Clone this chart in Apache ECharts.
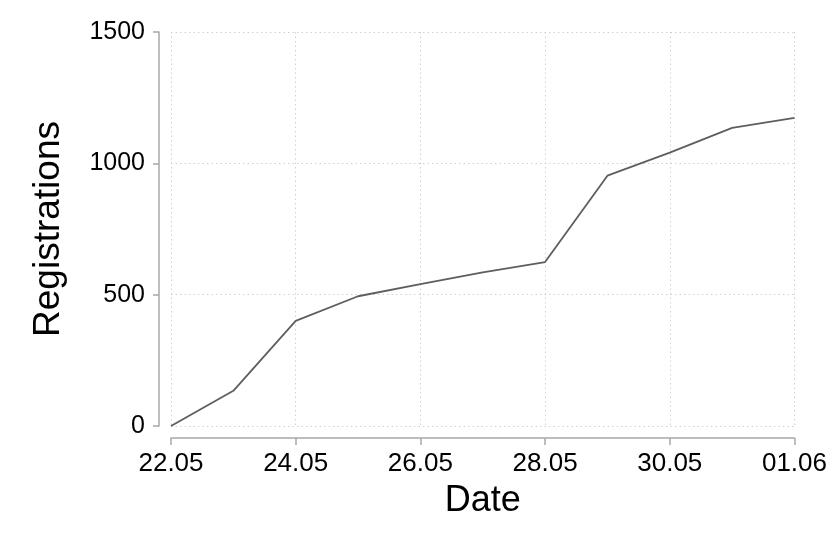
<!DOCTYPE html>
<html>
<head>
<meta charset="utf-8">
<script src="https://cdn.jsdelivr.net/npm/echarts@6/dist/echarts.min.js"></script>
<style>
html,body{margin:0;padding:0;background:#fff;}
#chart{width:830px;height:554px;}
</style>
</head>
<body>
<div id="chart"></div>
<script>
const dates = ["22.05","23.05","24.05","25.05","26.05","27.05","28.05","29.05","30.05","31.05","01.06"];
const registrations = [0, 134, 400, 494, 540, 585, 624, 953, 1041, 1135, 1173];
const yTicks = [0, 500, 1000, 1500];

const chart = echarts.init(document.getElementById('chart'), null, {renderer:'canvas'});
const font = '"Liberation Sans", Arial, Helvetica, sans-serif';
chart.setOption({
  animation: false,
  backgroundColor: '#fff',
  grid: {left: 171, right: 32, top: 32, bottom: 128, containLabel: false},
  xAxis: {
    type: 'category',
    data: dates,
    boundaryGap: false,
    offset: 12,
    name: 'Date',
    nameLocation: 'middle',
    nameGap: 45,
    nameTextStyle: {fontFamily: font, fontSize: 36, color: '#000'},
    axisLine: {show: true, onZero: false, lineStyle: {color: '#a8a8a8', width: 1.5}},
    axisTick: {show: true, interval: 1, length: 7, lineStyle: {color: '#a8a8a8', width: 1.5}},
    axisLabel: {interval: 1, margin: 13, fontFamily: font, fontSize: 26, color: '#000'},
    splitLine: {show: true, interval: 1, lineStyle: {color: '#d0d0d0', type: [1.5, 3], width: 1}}
  },
  yAxis: {
    type: 'value',
    min: yTicks[0],
    max: yTicks[yTicks.length - 1],
    interval: 500,
    offset: 12,
    name: 'Registrations',
    nameLocation: 'middle',
    nameGap: 92,
    nameTextStyle: {fontFamily: font, fontSize: 37, color: '#000'},
    axisLine: {show: true, onZero: false, lineStyle: {color: '#a8a8a8', width: 1.5}},
    axisTick: {show: true, length: 6, lineStyle: {color: '#a8a8a8', width: 1.5}},
    axisLabel: {margin: 14, padding: [6, 0, 0, 0], fontFamily: font, fontSize: 25, color: '#000', formatter: v => String(v)},
    splitLine: {show: true, lineStyle: {color: '#d0d0d0', type: [1.5, 3], width: 1}}
  },
  series: [{
    type: 'line',
    data: registrations,
    symbol: 'none',
    lineStyle: {color: '#5e5e5e', width: 1.8},
    z: 3
  }]
});
</script>
</body>
</html>
